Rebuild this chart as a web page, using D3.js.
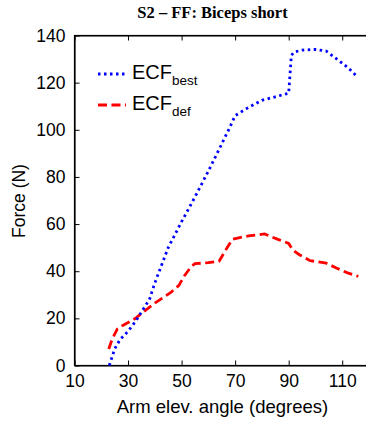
<!DOCTYPE html>
<html><head><meta charset="utf-8">
<script src="https://cdn.jsdelivr.net/npm/d3@7"></script>
<style>body{margin:0;background:#fff}svg{display:block}</style>
</head><body>
<svg id="c" width="366" height="421"></svg>
<script>
const title = "S2 – FF: Biceps short";
const xLabel = "Arm elev. angle (degrees)";
const yLabel = "Force (N)";
const xTicks = [10, 30, 50, 70, 90, 110];
const yTicks = [0, 20, 40, 60, 80, 100, 120, 140];
const bestAngle = [23, 25, 27, 30, 33, 36, 38, 40, 45, 50, 55, 60, 65, 68, 70, 75, 80, 85, 90, 91, 92, 95, 100, 104, 108, 112, 115];
const bestForce = [0, 7, 11, 14.5, 19, 24.5, 28, 35, 50, 61, 71.5, 82.5, 94, 101, 106, 109.5, 112.5, 114, 115.5, 131.5, 133, 133.8, 134.1, 133.4, 130, 126.5, 123.2];
const defAngle = [22.8, 24, 26, 28, 31, 33, 36, 40, 43, 46, 49, 51, 53.6, 55, 60, 64, 67, 69, 75, 81, 86, 90, 91.5, 94, 98, 104, 108, 112, 116];
const defForce = [7, 11, 15.5, 17, 18.8, 20.2, 23, 26.5, 28.7, 31, 34, 38, 42, 43.2, 43.6, 44.2, 50, 53.6, 55, 55.8, 53.5, 51.8, 49, 47, 44.5, 43.4, 41.3, 39.3, 37.8];
const seriesNames = ["best", "def"];

const svg = d3.select("#c");
const L = 74.5, T = 35.5, R = 369, B = 365.5;
const x = d3.scaleLinear().domain([10, 120]).range([L, R]);
const y = d3.scaleLinear().domain([0, 140]).range([B, T]);
const font = "'Liberation Sans', Arial, sans-serif";

// frame
svg.append("rect").attr("x", L).attr("y", T).attr("width", R - L).attr("height", B - T)
  .attr("fill", "none").attr("stroke", "#000").attr("stroke-width", 1.2);

// axes
const xa = svg.append("g").attr("transform", `translate(0,${B})`)
  .call(d3.axisBottom(x).tickValues(xTicks).tickSizeInner(-5).tickSizeOuter(0).tickPadding(9));
const xt = svg.append("g").attr("transform", `translate(0,${T})`)
  .call(d3.axisTop(x).tickValues(xTicks).tickSizeInner(-5).tickSizeOuter(0).tickFormat(""));
const ya = svg.append("g").attr("transform", `translate(${L},0)`)
  .call(d3.axisLeft(y).tickValues(yTicks).tickSizeInner(-5).tickSizeOuter(0).tickPadding(9));
[xa, xt, ya].forEach(g => {
  g.select(".domain").attr("stroke", "#000").attr("stroke-width", 1.2);
  g.selectAll(".tick line").attr("stroke", "#000");
  g.selectAll("text").attr("font-family", font).attr("font-size", 17.5).attr("fill", "#000");
});

const line = d3.line().x(d => x(d[0])).y(d => y(d[1]));
const best = bestAngle.map((a, i) => [a, bestForce[i]]);
const def = defAngle.map((a, i) => [a, defForce[i]]);

svg.append("path").datum(def).attr("d", line).attr("fill", "none")
  .attr("stroke", "#ff0000").attr("stroke-width", 2.8).attr("stroke-dasharray", "9,4.5");
svg.append("path").datum(best).attr("d", line).attr("fill", "none")
  .attr("stroke", "#0000ff").attr("stroke-width", 2.8).attr("stroke-dasharray", "2.5,3.5");

// legend
const leg = [{n: seriesNames[0], c: "#0000ff", d: "2.5,3.5", y: 74}, {n: seriesNames[1], c: "#ff0000", d: "9,4.5", y: 105}];
leg.forEach(l => {
  svg.append("line").attr("x1", 98).attr("x2", 126).attr("y1", l.y).attr("y2", l.y)
    .attr("stroke", l.c).attr("stroke-width", 2.8).attr("stroke-dasharray", l.d);
  const t = svg.append("text").attr("x", 132).attr("y", l.y + 5).attr("font-family", font)
    .attr("font-size", 20).attr("fill", "#000").text("ECF");
  t.append("tspan").attr("dy", 5.5).attr("font-size", 13.5).text(l.n);
});

// title
svg.append("text").attr("x", 212.5).attr("y", 18).attr("text-anchor", "middle")
  .attr("font-family", "'Liberation Serif', 'Times New Roman', serif").attr("font-weight", "bold")
  .attr("font-size", 16.5).text(title);

// axis labels
svg.append("text").attr("x", 222.5).attr("y", 413).attr("text-anchor", "middle")
  .attr("font-family", font).attr("font-size", 18.5).text(xLabel);
svg.append("text").attr("transform", "translate(25,201) rotate(-90)").attr("text-anchor", "middle")
  .attr("font-family", font).attr("font-size", 17.5).text(yLabel);
</script>
</body></html>
